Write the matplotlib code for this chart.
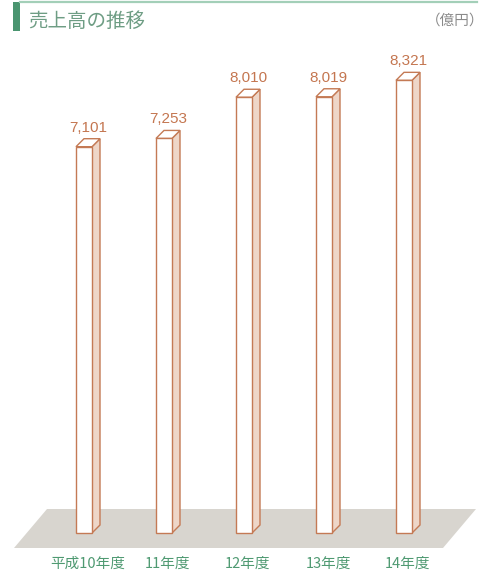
import numpy as np
import matplotlib.pyplot as plt
from matplotlib.patches import Polygon, Rectangle
from matplotlib.lines import Line2D

plt.rcParams['font.family'] = ['Noto Sans CJK JP', 'DejaVu Sans']

categories = ["平成10年度", "11年度", "12年度", "13年度", "14年度"]
values = [7101, 7253, 8010, 8019, 8321]
value_labels = ["7,101", "7,253", "8,010", "8,019", "8,321"]
title = "売上高の推移"
unit = "（億円）"

edge = '#c47a55'
side = '#eed6c8'
vtext = '#c47650'
green = '#4f9a72'
floor_c = '#d8d5cf'

W, H = 491, 572
fig = plt.figure(figsize=(W/100, H/100), dpi=100)
ax = fig.add_axes([0, 0, 1, 1])
ax.axis('off')

# pixel scale: 80 px per bar slot, 0.0544 px per value unit
px_x = 80.0
px_y = 0.0544
ax.set_xlim(-84/px_x, (W-84)/px_x)
ax.set_ylim(-39/px_y, (H-39)/px_y)

bw = 16/px_x      # front width
dx = 8/px_x       # depth in x
dy = 8/px_y       # depth in y

# floor
fy0 = -15/px_y
fy1 = 24/px_y
floor = Polygon([(-0.875, fy0), (4.4875, fy0), (4.9, fy1), (-0.4625, fy1)],
                closed=True, facecolor=floor_c, edgecolor='none', zorder=1)
ax.add_patch(floor)

x = np.arange(len(values))
for xi, v, lab, cat in zip(x, values, value_labels, categories):
    l, r = xi - bw/2, xi + bw/2
    # side face
    ax.add_patch(Polygon([(r, 0), (r+dx, dy), (r+dx, v+dy), (r, v)], closed=True,
                         facecolor=side, edgecolor=edge, lw=1.0, zorder=2))
    # top face
    ax.add_patch(Polygon([(l, v), (r, v), (r+dx, v+dy), (l+dx, v+dy)], closed=True,
                         facecolor='white', edgecolor=edge, lw=1.0, zorder=2))
    # front face
    ax.add_patch(Rectangle((l, 0), bw, v, facecolor='white', edgecolor=edge,
                           lw=1.0, zorder=3))
    ax.text(xi + dx/2, v + dy + 4/px_y, lab, ha='center', va='bottom',
            color=vtext, fontsize=11, family=['Liberation Sans', 'DejaVu Sans'])
    ax.text(xi + dx/2, -31/px_y, cat, ha='center', va='center', color=green,
            fontsize=10.5)

# header
fig.add_artist(Rectangle((13/W, 1 - 31/H), 7/W, 29/H, transform=fig.transFigure,
                         facecolor='#4a9570', edgecolor='none'))
fig.add_artist(Line2D([20/W, 477/W], [1 - 2.2/H, 1 - 2.2/H], transform=fig.transFigure,
                      color='#a3cfb8', lw=1.6))
fig.text(28/W, 1 - 21/H, title, ha='left', va='center', fontsize=14, color='#6e9d84')
fig.text(484/W, 1 - 21/H, unit, ha='right', va='center', fontsize=10.5, color='#8a8a8a')

fig.savefig("out.png", dpi=100)
